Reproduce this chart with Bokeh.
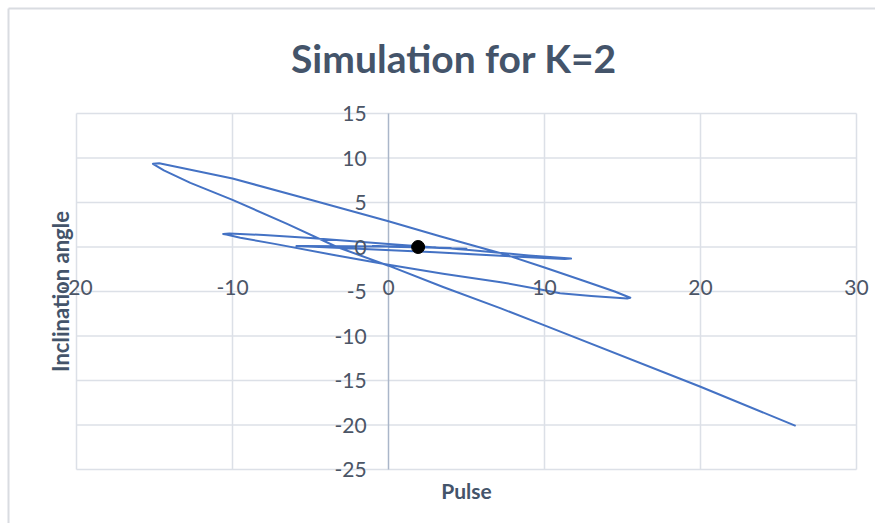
from bokeh.plotting import figure
from bokeh.models import Range1d, Label, LabelSet, ColumnDataSource
from bokeh.core.properties import value
from bokeh.embed import file_html
from bokeh.resources import INLINE
import math

# ---- data ----
pulse = [26.1, 20.0, 10.0, 7.2, 3.5, 0.0, -3.3, -6.5, -10.0, -12.7, -14.4, -15.1,
         -14.7, -13.0, -10.0, -5.0, 0.0, 3.3, 7.2, 10.0, 12.5, 14.5, 15.5,
         15.3, 13.0, 11.0, 10.0, 7.2, 3.5, 0.0, -3.5, -7.3, -9.5, -10.4, -10.6,
         -10.2, -8.0, -5.0, 0.0, 5.0, 9.0, 11.7,
         11.3, 3.0, -5.5, -5.9,
         -5.5, 0.0, 5.0,
         4.5, -1.0, 4.0, 0.0, 3.0, 1.9]
angle = [-20.1, -15.7, -8.8, -6.9, -4.5, -2.1, 0.0, 2.6, 5.3, 7.2, 8.6, 9.35,
         9.4, 8.8, 7.7, 5.3, 2.9, 1.2, -0.7, -2.3, -3.8, -5.0, -5.7,
         -5.78, -5.5, -5.2, -4.85, -3.95, -3.0, -2.0, -0.9, 0.35, 1.05, 1.4, 1.47,
         1.52, 1.35, 1.0, 0.35, -0.3, -0.95, -1.3,
         -1.36, -0.6, 0.08, 0.1,
         0.12, 0.05, -0.2,
         -0.18, 0.1, -0.1, 0.03, -0.03, 0.0]
dot_x = [1.9]
dot_y = [0.0]

x_ticks = [-20, -10, 0, 10, 20, 30]
y_ticks = [15, 10, 5, 0, -5, -10, -15, -20, -25]
x_tick_labels = ["-20", "-10", "0", "10", "20", "30"]
y_tick_labels = ["15", "10", "5", "0", "-5", "-10", "-15", "-20", "-25"]

title_text = "Simulation for K=2"
x_title = "Pulse"
y_title = "Inclination angle"

TEXT = "#44546A"
TICK = "#4B5566"
FONT = "Lato"
GRID = "#DCE0E7"

# canvas-wide frame; ranges chosen so the plot area is x:-20..30, y:-25..15
W, H = 875, 523
XPX = 15.6            # pixels per unit in x
YPX = 8.9             # pixels per unit in y
X0 = 388.0            # pixel of x = 0
Y0 = 246.5            # pixel of y = 0
x_lo, x_hi = -X0 / XPX, (W - X0) / XPX
y_hi, y_lo = Y0 / YPX, -(H - Y0) / YPX

p = figure(width=W, height=H,
           x_range=Range1d(x_lo, x_hi), y_range=Range1d(y_lo, y_hi),
           x_axis_location=None, y_axis_location=None,
           toolbar_location=None, output_backend="svg",
           min_border=0)
p.outline_line_color = None
p.background_fill_color = "white"
p.border_fill_color = "white"
for g in p.grid:
    g.visible = False
p.center = []

# chart border (left and top)
p.segment(x0=[x_lo + 8 / XPX], y0=[y_lo], x1=[x_lo + 8 / XPX], y1=[y_hi - 8 / YPX],
          line_color="#D9DCE1", line_width=2)
p.segment(x0=[x_lo + 8 / XPX], y0=[y_hi - 8 / YPX], x1=[x_hi], y1=[y_hi - 8 / YPX],
          line_color="#D9DCE1", line_width=2)

# gridlines
gx = [t for t in x_ticks if t != 0]
p.segment(x0=gx, y0=[min(y_ticks)] * len(gx), x1=gx, y1=[max(y_ticks)] * len(gx),
          line_color=GRID, line_width=1.5)
p.segment(x0=[min(x_ticks)] * len(y_ticks), y0=y_ticks,
          x1=[max(x_ticks)] * len(y_ticks), y1=y_ticks,
          line_color=GRID, line_width=1.5)
# vertical axis line at x = 0
p.segment(x0=[0], y0=[min(y_ticks)], x1=[0], y1=[max(y_ticks)],
          line_color="#AAB6C9", line_width=1.5)

p.line(pulse, angle, line_color="#4472C4", line_width=2, line_join="round")
p.scatter(dot_x, dot_y, size=13, color="black")

xs = ColumnDataSource(dict(x=x_ticks, y=[-4.5] * len(x_ticks), t=x_tick_labels))
p.add_layout(LabelSet(x="x", y="y", text="t", source=xs,
                      text_align="center", text_baseline="middle",
                      text_font=value(FONT), text_font_size=value("21px"),
                      text_color=value(TICK)))
ys = ColumnDataSource(dict(x=[-1.4] * len(y_ticks), y=y_ticks, t=y_tick_labels))
p.add_layout(LabelSet(x="x", y="y", text="t", source=ys,
                      text_align="right", text_baseline="middle",
                      text_font=value(FONT), text_font_size=value("21px"),
                      text_color=value(TICK)))

p.add_layout(Label(x=4.2, y=21.29, text=title_text, text_align="center",
                   text_baseline="middle", text_font=FONT, text_font_style="bold",
                   text_font_size="39px", text_color=TEXT))
p.add_layout(Label(x=5.0, y=-27.36, text=x_title, text_align="center",
                   text_baseline="middle", text_font=FONT, text_font_style="bold",
                   text_font_size="21px", text_color=TEXT))
p.add_layout(Label(x=-21.03, y=-5.0, text=y_title, text_align="center",
                   text_baseline="middle", text_font=FONT, text_font_style="bold",
                   text_font_size="22px", text_color=TEXT, angle=math.pi / 2))

open("out.html", "w").write(file_html(p, INLINE))
